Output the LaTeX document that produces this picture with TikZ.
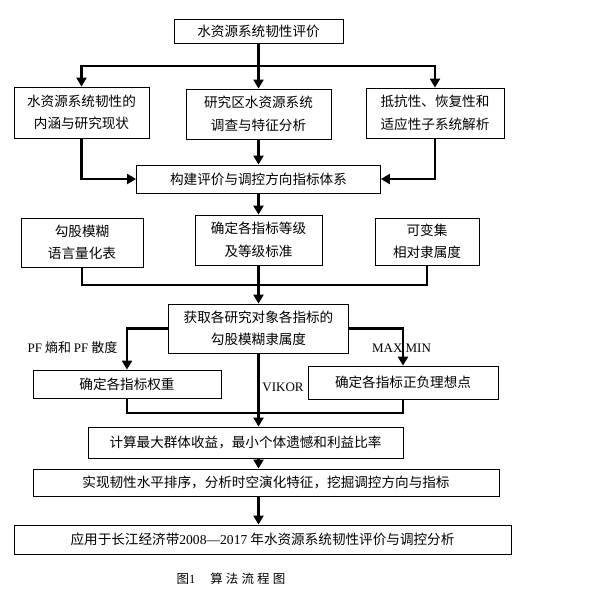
\documentclass[tikz,border=0pt]{standalone}
\usepackage{fontspec}
\setmainfont{Noto Sans CJK SC}
\newfontfamily\latf{Liberation Serif}
\newcommand{\lt}[1]{{\latf #1}}
\usetikzlibrary{arrows.meta}
\begin{document}
\begin{tikzpicture}[x=1pt,y=-1pt,
  box/.style={draw,line width=0.9pt,inner sep=0pt,align=center,font=\fontsize{13.6}{22.5}\selectfont},
  conn/.style={line width=2.2pt},
  arr/.style={conn,-{Triangle[length=9pt,width=10pt]}},
  lab/.style={font=\fontsize{13}{14}\selectfont,inner sep=0pt}]
\useasboundingbox (0,0) rectangle (595,598);
\fill[white] (0,0) rectangle (595,598);
% nodes
\node[box,minimum width=169pt,minimum height=24pt] (top) at (258.5,31) {水资源系统韧性评价};
\node[box,minimum width=135pt,minimum height=51pt] (L1) at (81.5,112.5) {水资源系统韧性的\\内涵与研究现状};
\node[box,minimum width=145pt,minimum height=50pt] (M1) at (258.5,114) {研究区水资源系统\\调查与特征分析};
\node[box,minimum width=138pt,minimum height=50pt] (R1) at (435,113) {抵抗性、恢复性和\\适应性子系统解析};
\node[box,minimum width=244pt,minimum height=28pt] (B) at (258.5,179) {构建评价与调控方向指标体系};
\node[box,minimum width=122pt,minimum height=49pt] (L2) at (82,242.5) {勾股模糊\\语言量化表};
\node[box,minimum width=127pt,minimum height=50pt] (M2) at (258.5,240) {确定各指标等级\\及等级标准};
\node[box,minimum width=104pt,minimum height=47pt] (R2) at (427,241.5) {可变集\\相对隶属度};
\node[box,minimum width=180pt,minimum height=49pt] (G) at (258.5,328.5) {获取各研究对象各指标的\\勾股模糊隶属度};
\node[box,minimum width=188pt,minimum height=28pt] (W) at (127,384) {确定各指标权重};
\node[box,minimum width=190pt,minimum height=33pt] (P) at (403,382.5) {确定各指标正负理想点};
\node[box,minimum width=315pt,minimum height=31pt] (C) at (245.5,442.5) {计算最大群体收益，最小个体遗憾和利益比率};
\node[box,minimum width=466pt,minimum height=27pt] (S) at (266,482.5) {实现韧性水平排序，分析时空演化特征，挖掘调控方向与指标};
\node[box,minimum width=497pt,minimum height=29pt] (A) at (262.5,539.5) {应用于长江经济带\lt{2008—2017} 年水资源系统韧性评价与调控分析};
% labels
\node[lab] (lpf) at (72.5,348) {\lt{PF} 熵和 \lt{PF} 散度};
\node[lab] (lmm) at (401.5,348) {\lt{MAX MIN}};
\node[lab] (lvk) at (283,387) {\lt{VIKOR}};
\node[inner sep=0pt,font=\fontsize{12.5}{14}\selectfont] (cap) at (231,579) {图\lt{1}\hspace{1.2em}算\hspace{0.25em}法\hspace{0.25em}流\hspace{0.25em}程\hspace{0.25em}图};
% coordinates
\coordinate (j1) at (258.5,66);
\coordinate (j2) at (258.5,285);
\coordinate (j3) at (403,413);
% connectors
\draw[conn] (top.south) -- (j1);
\draw[arr] (j1) -| (L1.north);
\draw[arr] (j1) -| (R1.north);
\draw[arr] (j1) -- (M1.north);
\draw[arr] (M1.south) -- (B.north);
\draw[arr] (L1.south) |- (B.west);
\draw[arr] (R1.south) |- (B.east);
\draw[arr] (B.south) -- (M2.north);
\draw[conn] (L2.south) |- (j2);
\draw[conn] (R2.south) |- (j2);
\draw[conn] (M2.south) -- (j2);
\draw[arr] (j2) -- (G.north);
\draw[arr] (G.west) -| (W.north);
\draw[arr] (G.east) -| (P.north);
\draw[conn] (W.south) |- (j3) -- (P.south);
\draw[arr] (G.south) -- (G.south |- C.north);
\draw[arr] (G.south |- C.south) -- (G.south |- S.north);
\draw[arr] (G.south |- S.south) -- (G.south |- A.north);
\end{tikzpicture}
\end{document}
